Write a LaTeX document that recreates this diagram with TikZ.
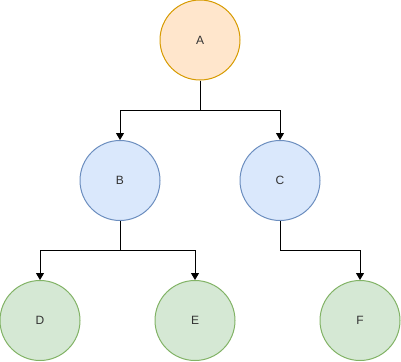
\documentclass[tikz,border=0pt]{standalone}
\usepackage{fontspec}
\setmainfont{Liberation Sans}
\usetikzlibrary{arrows.meta}
\definecolor{orfill}{HTML}{FFE6CC}
\definecolor{ordraw}{HTML}{D79B00}
\definecolor{blfill}{HTML}{DAE8FC}
\definecolor{bldraw}{HTML}{6C8EBF}
\definecolor{grfill}{HTML}{D5E8D4}
\definecolor{grdraw}{HTML}{82B366}
\definecolor{txt}{HTML}{333333}
\begin{document}
\begin{tikzpicture}[x=1pt,y=-1pt,
  circ/.style={circle,minimum size=80pt,inner sep=0pt,line width=1pt,font=\fontsize{12}{14}\selectfont,text=txt},
  orange node/.style={circ,fill=orfill,draw=ordraw},
  blue node/.style={circ,fill=blfill,draw=bldraw},
  green node/.style={circ,fill=grfill,draw=grdraw},
  conn/.style={line width=1pt,-{Classic TikZ Rightarrow[length=6pt,width=8pt]}},
  conn/.style={line width=1pt,-{Triangle[length=7pt,width=8pt]}}]
\useasboundingbox (0,0) rectangle (401,361);
\node[orange node] (A) at (200,40) {A};
\node[blue node] (B) at (120,180.5) {B};
\node[blue node] (C) at (280,180.5) {C};
\node[green node] (D) at (40,320.5) {D};
\node[green node] (E) at (195,320.5) {E};
\node[green node] (F) at (360,320.5) {F};
\draw[conn] (A.south) -- ++(0,30) -| (B.north);
\draw[conn] (A.south) -- ++(0,30) -| (C.north);
\draw[conn] (B.south) -- ++(0,29.5) -| (D.north);
\draw[conn] (B.south) -- ++(0,29.5) -| (E.north);
\draw[conn] (C.south) -- ++(0,29.5) -| (F.north);
\end{tikzpicture}
\end{document}
